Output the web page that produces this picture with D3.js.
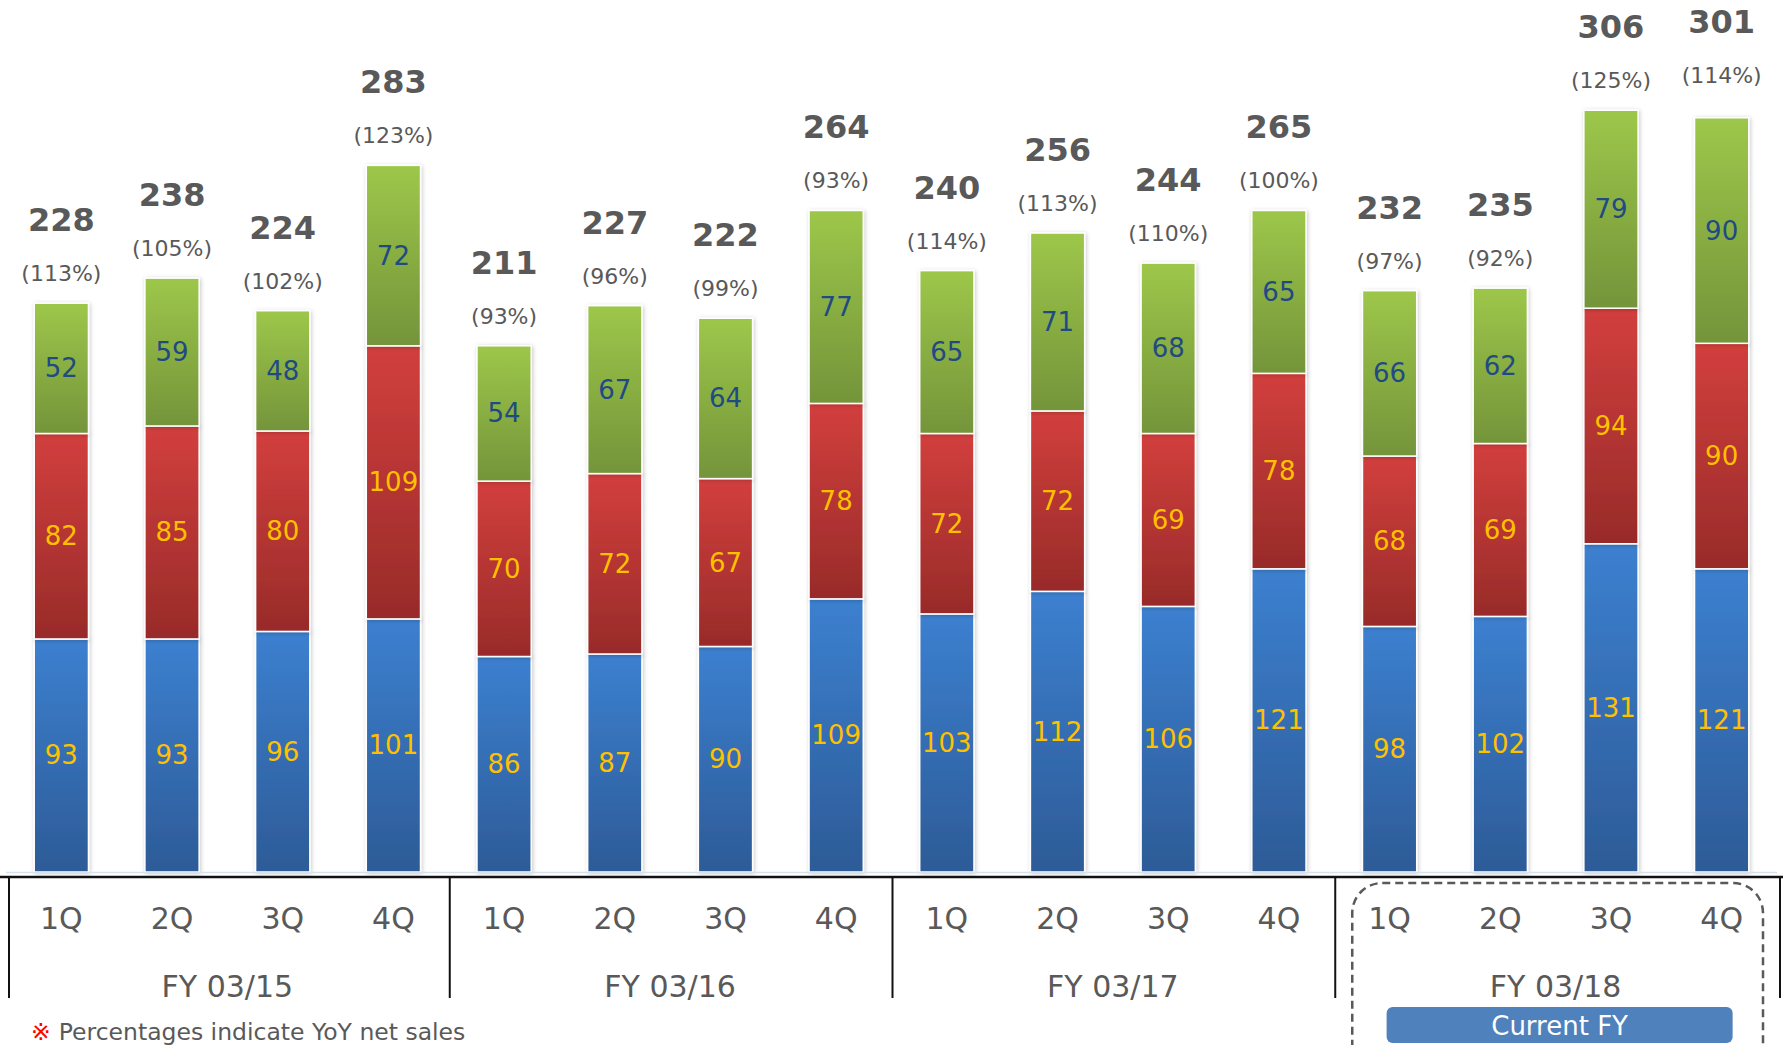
<!DOCTYPE html>
<html>
<head>
<meta charset="utf-8">
<script src="https://cdn.jsdelivr.net/npm/d3@7"></script>
<style>
body { margin: 0; background: #fff; }
svg { display: block; font-family: "DejaVu Sans", Verdana, sans-serif; }
</style>
</head>
<body>
<svg id="drawing_region"></svg>
<script>
const years = ["FY 03/15", "FY 03/16", "FY 03/17", "FY 03/18"];
const quarters = ["1Q", "2Q", "3Q", "4Q"];
// bottom (blue), middle (red), top (green) segments, per quarter
const blueValues  = [93, 93, 96, 101,  86, 87, 90, 109,  103, 112, 106, 121,  98, 102, 131, 121];
const redValues   = [82, 85, 80, 109,  70, 72, 67, 78,   72, 72, 69, 78,      68, 69, 94, 90];
const greenValues = [52, 59, 48, 72,   54, 67, 64, 77,   65, 71, 68, 65,      66, 62, 79, 90];
const totals      = [228, 238, 224, 283,  211, 227, 222, 264,  240, 256, 244, 265,  232, 235, 306, 301];
const yoyPercent  = [113, 105, 102, 123,  93, 96, 99, 93,  114, 113, 110, 100,  97, 92, 125, 114];
const currentYear = "FY 03/18";

class StackedChart {

    constructor( config, data ) {
        this.config = config;
        this.data = data;
        this.init();
    }

    init() {
        let self = this;

        self.svg = d3.select( self.config.parent )
            .attr('width', self.config.width)
            .attr('height', self.config.height);

        const defs = self.svg.append('defs');
        const grads = {
            blue:  ['#3c80d0', '#2d5b97'],
            red:   ['#d23f3d', '#982b29'],
            green: ['#9dc74a', '#74943a']
        };
        Object.entries(grads).forEach( ([k, c]) => {
            const g = defs.append('linearGradient')
                .attr('id', 'grad-' + k)
                .attr('x1', 0).attr('y1', 0).attr('x2', 0).attr('y2', 1);
            g.append('stop').attr('offset', '0%').attr('stop-color', c[0]);
            g.append('stop').attr('offset', '100%').attr('stop-color', c[1]);
        });
        defs.append('filter').attr('id', 'shadow')
            .attr('x', '-20%').attr('y', '-5%').attr('width', '140%').attr('height', '110%')
            .append('feDropShadow')
            .attr('dx', 1).attr('dy', 1).attr('stdDeviation', 2)
            .attr('flood-color', '#000').attr('flood-opacity', 0.22);

        self.base_y = 872;

        self.xscale = d3.scaleBand()
            .domain( self.data.map( d => d.key ) )
            .range( [6, 1777] )
            .paddingInner(0.51)
            .paddingOuter(0.255);

        self.yscale = d3.scaleLinear()
            .domain( [0, 348] )
            .range( [self.base_y, 0] );

        self.stack = d3.stack().keys( ['blue', 'red', 'green'] )( self.data );

        self.chart = self.svg.append('g');
        self.label_group = self.svg.append('g');
        self.axis_group = self.svg.append('g');
    }

    update() {
        this.render();
    }

    render() {
        let self = this;
        const bw = self.xscale.bandwidth();
        const step = self.xscale.step();
        const x0 = self.xscale.range()[0];
        const lift = i => self.config.labelLift[i] || 0;

        // stacked bars
        self.chart.selectAll('g.layer')
            .data( self.stack )
            .join('g')
            .attr('class', 'layer')
            .selectAll('rect')
            .data( layer => layer.map( d => ({ key: layer.key, d }) ) )
            .join('rect')
            .attr('x', e => self.xscale( e.d.data.key ))
            .attr('y', e => self.yscale( e.d[1] ))
            .attr('width', bw)
            .attr('height', e => self.yscale( e.d[0] ) - self.yscale( e.d[1] ))
            .attr('fill', e => `url(#grad-${e.key})`)
            .attr('stroke', '#fff')
            .attr('stroke-width', 1.5)
            .attr('filter', 'url(#shadow)');

        // values inside segments
        self.stack.forEach( layer => {
            self.label_group.append('g').selectAll('text')
                .data( layer )
                .join('text')
                .attr('x', d => self.xscale( d.data.key ) + bw / 2)
                .attr('y', d => ( self.yscale( d[0] ) + self.yscale( d[1] ) ) / 2)
                .attr('text-anchor', 'middle')
                .attr('dominant-baseline', 'central')
                .attr('font-size', '26px')
                .attr('fill', layer.key === 'green' ? '#1f4a82' : '#ffc000')
                .text( d => d.data[layer.key] );
        });

        const top = self.stack[self.stack.length - 1];

        // totals
        self.label_group.append('g').selectAll('text')
            .data( top )
            .join('text')
            .attr('x', d => self.xscale( d.data.key ) + bw / 2)
            .attr('y', (d, i) => self.yscale( d[1] ) - 72 - lift(i))
            .attr('text-anchor', 'middle')
            .attr('font-size', '32px')
            .attr('font-weight', 'bold')
            .attr('fill', '#595959')
            .text( d => d.data.total );

        // YoY percentages
        self.label_group.append('g').selectAll('text')
            .data( top )
            .join('text')
            .attr('x', d => self.xscale( d.data.key ) + bw / 2)
            .attr('y', (d, i) => self.yscale( d[1] ) - 22 - lift(i))
            .attr('text-anchor', 'middle')
            .attr('font-size', '22px')
            .attr('fill', '#595959')
            .text( d => `(${d.data.yoy}%)` );

        // baseline + axis lines
        self.axis_group.append('line')
            .attr('x1', x0).attr('x2', self.xscale.range()[1])
            .attr('y1', self.base_y + 0.5).attr('y2', self.base_y + 0.5)
            .attr('stroke', '#d6e2f0').attr('stroke-width', 1.5);

        self.axis_group.append('line')
            .attr('x1', 0).attr('x2', self.config.width)
            .attr('y1', 877).attr('y2', 877)
            .attr('stroke', '#111').attr('stroke-width', 2.5);

        // quarter labels
        const xaxis = d3.axisBottom( self.xscale )
            .tickSize(0)
            .tickPadding(31)
            .tickFormat( k => k.split('|')[1] );
        const xg = self.axis_group.append('g')
            .attr('transform', 'translate(0, 877)')
            .call( xaxis );
        xg.select('.domain').remove();
        xg.selectAll('text')
            .attr('font-size', '30px')
            .attr('font-family', '"DejaVu Sans", Verdana, sans-serif')
            .attr('fill', '#595959');

        // year separators + year labels
        const bounds = d3.range( years.length + 1 ).map( i => x0 + i * quarters.length * step );
        self.axis_group.selectAll('line.sep')
            .data( bounds )
            .join('line')
            .attr('class', 'sep')
            .attr('x1', (b, i) => b + (i === 0 || i === years.length ? 3 : 1))
            .attr('x2', (b, i) => b + (i === 0 || i === years.length ? 3 : 1))
            .attr('y1', 877).attr('y2', 998)
            .attr('stroke', '#111').attr('stroke-width', 2);

        self.axis_group.selectAll('text.year')
            .data( years )
            .join('text')
            .attr('class', 'year')
            .attr('x', (y, i) => ( bounds[i] + bounds[i + 1] ) / 2)
            .attr('y', 997)
            .attr('text-anchor', 'middle')
            .attr('font-size', '30px')
            .attr('fill', '#595959')
            .text( y => y );

        // current FY highlight
        const ci = years.indexOf( currentYear );
        const cl = bounds[ci], cr = bounds[ci + 1];
        self.axis_group.append('rect')
            .attr('x', cl + 18).attr('y', 883)
            .attr('width', cr - cl - 32).attr('height', 200)
            .attr('rx', 30).attr('ry', 30)
            .attr('fill', 'none')
            .attr('stroke', '#595959')
            .attr('stroke-width', 2.5)
            .attr('stroke-dasharray', '8,5');

        const cx = ( cl + cr ) / 2 + 4;
        self.axis_group.append('rect')
            .attr('x', cx - 173).attr('y', 1007)
            .attr('width', 346).attr('height', 36)
            .attr('rx', 6)
            .attr('fill', '#4f81bd');
        self.axis_group.append('text')
            .attr('x', cx).attr('y', 1035)
            .attr('text-anchor', 'middle')
            .attr('font-size', '26px')
            .attr('fill', '#fff')
            .text('Current FY');

        // footnote
        const note = self.svg.append('text')
            .attr('x', 31).attr('y', 1040)
            .attr('font-size', '23.5px')
            .attr('fill', '#595959');
        note.append('tspan').attr('fill', '#ff0000').text('※');
        note.append('tspan').attr('dx', 8).text('Percentages indicate YoY net sales');
    }
}

const data = [];
years.forEach( (y, yi) => {
    quarters.forEach( (q, qi) => {
        const i = yi * quarters.length + qi;
        data.push({
            key: y + '|' + q,
            blue: blueValues[i],
            red: redValues[i],
            green: greenValues[i],
            total: totals[i],
            yoy: yoyPercent[i]
        });
    });
});

const config = {
    parent: '#drawing_region',
    width: 1783,
    height: 1045,
    labelLift: { 15: 13 }   // last bar's labels sit higher in the original
};
const chart = new StackedChart( config, data );
chart.update();
</script>
</body>
</html>
